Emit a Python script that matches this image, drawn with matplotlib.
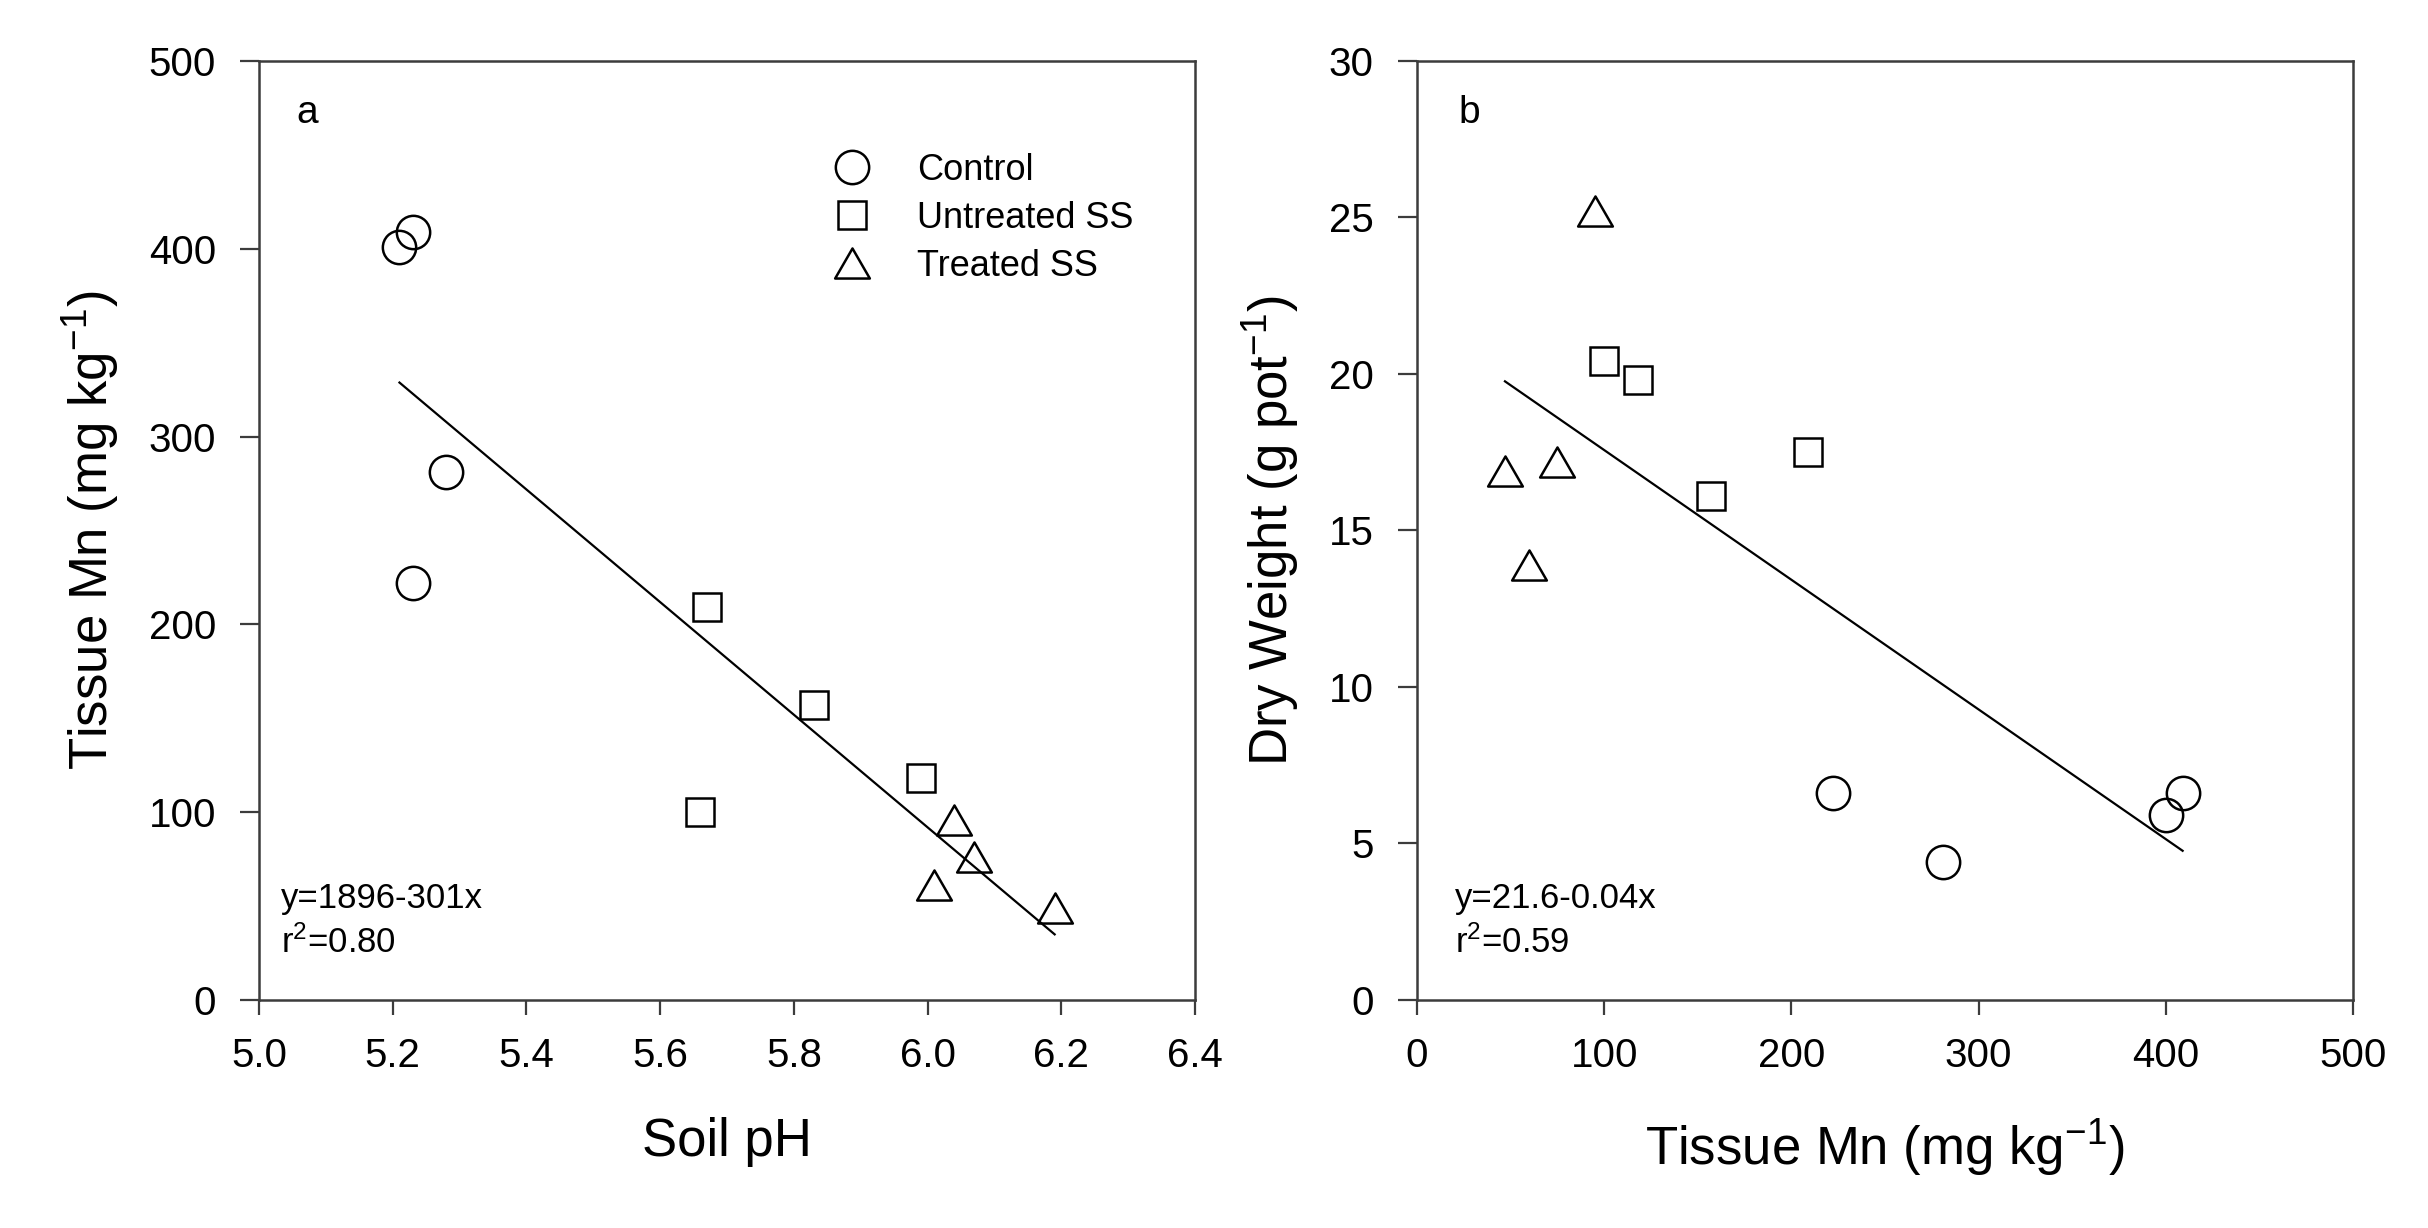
import numpy as np
import matplotlib
matplotlib.use('Agg')
import matplotlib.pyplot as plt
from matplotlib.path import Path

plt.rcParams['font.family'] = ['Liberation Sans', 'DejaVu Sans']
plt.rcParams['mathtext.fontset'] = 'custom'
plt.rcParams['mathtext.rm'] = 'Liberation Sans'
plt.rcParams['mathtext.default'] = 'regular'

groups = ['Control', 'Untreated SS', 'Treated SS']

# panel a: soil pH vs tissue Mn
ph_control = [5.21, 5.23, 5.28, 5.23]
ph_untreated = [5.67, 5.66, 5.83, 5.99]
ph_treated = [6.04, 6.07, 6.01, 6.19]
mn_control = [401, 409, 281, 222]
mn_untreated = [209, 100, 157, 118]
mn_treated = [96, 76, 61, 49]

# panel b: tissue Mn vs dry weight
dw_control = [6.6, 4.4, 5.9, 6.6]
dw_untreated = [20.4, 19.8, 16.1, 17.5]
dw_treated = [25.2, 16.9, 13.9, 17.2]
mnb_control = [222, 281, 400, 409]
mnb_untreated = [100, 118, 157, 209]
mnb_treated = [95, 47, 60, 75]

eq_a = ['y=1896-301x', 'r$^2$=0.80']
eq_b = ['y=21.6-0.04x', 'r$^2$=0.59']

# equilateral triangle marker
tri = Path([(-1, -0.866), (1, -0.866), (0, 0.866), (-1, -0.866)],
           [Path.MOVETO, Path.LINETO, Path.LINETO, Path.CLOSEPOLY])
markers = [('o', 24), ('s', 20), (tri, 25)]
spine_col = '#3c3c3c'


def style_axes(ax):
    for s in ax.spines.values():
        s.set_linewidth(1.8)
        s.set_color(spine_col)
    ax.tick_params(axis='both', direction='out', width=1.6, color=spine_col,
                   labelsize=29, top=False, right=False)
    ax.tick_params(axis='x', length=11, pad=16)
    ax.tick_params(axis='y', length=14, pad=17)


def scatter_groups(ax, xs, ys):
    handles = []
    for x, y, (m, ms), name in zip(xs, ys, markers, groups):
        h, = ax.plot(x, y, linestyle='none', marker=m, markersize=ms,
                     markerfacecolor='none', markeredgecolor='black',
                     markeredgewidth=1.8, label=name, clip_on=False)
        handles.append(h)
    allx = np.concatenate([np.asarray(v, float) for v in xs])
    ally = np.concatenate([np.asarray(v, float) for v in ys])
    k, b = np.polyfit(allx, ally, 1)
    xx = np.array([allx.min(), allx.max()])
    ax.plot(xx, b + k * xx, color='black', linewidth=1.6)
    return handles


fig = plt.figure(figsize=(24.28, 12.28), dpi=100)
ax1 = fig.add_axes([0.1067, 0.1857, 0.3855, 0.7647])
ax2 = fig.add_axes([0.5836, 0.1857, 0.3855, 0.7647])

# panel a
hs = scatter_groups(ax1, [ph_control, ph_untreated, ph_treated],
                    [mn_control, mn_untreated, mn_treated])
ax1.set_xlim(5.0, 6.4)
ax1.set_ylim(0, 500)
ax1.set_xticks(np.arange(5.0, 6.41, 0.2))
ax1.set_xticklabels(['5.0', '5.2', '5.4', '5.6', '5.8', '6.0', '6.2', '6.4'])
ax1.set_yticks(np.arange(0, 501, 100))
ax1.set_xlabel('Soil pH', fontsize=38, labelpad=30)
ax1.set_ylabel('Tissue Mn (mg kg$^{-1}$)', fontsize=38, labelpad=20)
style_axes(ax1)
ax1.text(0.04, 0.934, 'a', transform=ax1.transAxes, fontsize=28, va='baseline')
ax1.text(0.023, 0.098, eq_a[0], transform=ax1.transAxes, fontsize=25, va='baseline')
ax1.text(0.023, 0.050, eq_a[1], transform=ax1.transAxes, fontsize=25, va='baseline')
ax1.legend(handles=hs, loc='upper left', bbox_to_anchor=(0.614, 0.902),
           frameon=False, fontsize=26, handlelength=1.0, handletextpad=1.3,
           labelspacing=0.36, borderpad=0, borderaxespad=0, numpoints=1)

# panel b
scatter_groups(ax2, [mnb_control, mnb_untreated, mnb_treated],
               [dw_control, dw_untreated, dw_treated])
ax2.set_xlim(0, 500)
ax2.set_ylim(0, 30)
ax2.set_xticks(np.arange(0, 501, 100))
ax2.set_yticks(np.arange(0, 31, 5))
ax2.set_xlabel('Tissue Mn (mg kg$^{-1}$)', fontsize=38, labelpad=30)
ax2.set_ylabel('Dry Weight (g pot$^{-1}$)', fontsize=38, labelpad=20)
style_axes(ax2)
ax2.text(0.044, 0.934, 'b', transform=ax2.transAxes, fontsize=28, va='baseline')
ax2.text(0.041, 0.098, eq_b[0], transform=ax2.transAxes, fontsize=25, va='baseline')
ax2.text(0.041, 0.050, eq_b[1], transform=ax2.transAxes, fontsize=25, va='baseline')

fig.savefig('out.png', dpi=100, facecolor='white')
